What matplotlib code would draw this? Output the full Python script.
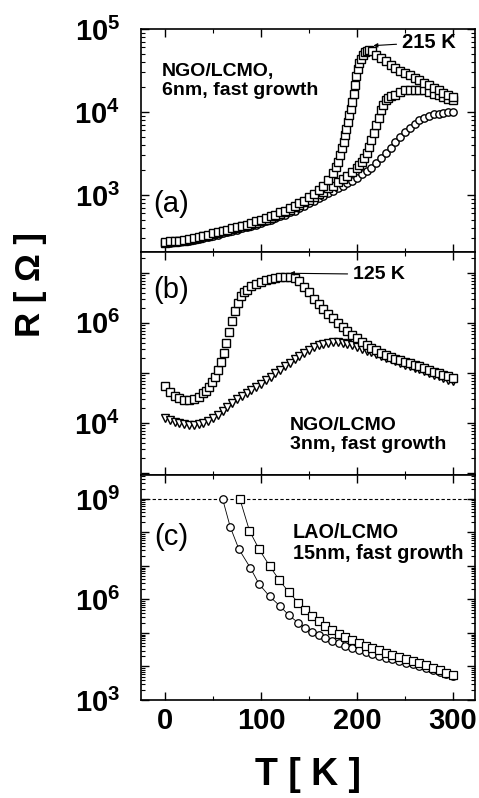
import numpy as np
import matplotlib
matplotlib.use("Agg")
import matplotlib.pyplot as plt
from matplotlib.ticker import FixedLocator, FuncFormatter, LogLocator, NullFormatter

plt.rcParams['font.family'] = ['Liberation Sans', 'DejaVu Sans']
plt.rcParams['mathtext.fontset'] = 'custom'
plt.rcParams['mathtext.rm'] = 'Liberation Sans'
plt.rcParams['mathtext.bf'] = 'Liberation Sans:bold'

# ---- panel (a): NGO/LCMO 6nm, values are log10(R / Ohm)
T_a = np.arange(0, 301, 5)
logR_a_circ = [2.42, 2.42, 2.43, 2.43, 2.44, 2.45, 2.46, 2.47, 2.48, 2.49,
               2.51, 2.52, 2.54, 2.55, 2.57, 2.58, 2.60, 2.61, 2.63, 2.64,
               2.66, 2.68, 2.70, 2.72, 2.74, 2.76, 2.79, 2.81, 2.84, 2.87,
               2.90, 2.93, 2.96, 2.99, 3.02, 3.05, 3.08, 3.11, 3.14, 3.17,
               3.21, 3.25, 3.29, 3.33, 3.38, 3.44, 3.50, 3.57, 3.64, 3.70,
               3.76, 3.81, 3.86, 3.90, 3.93, 3.95, 3.97, 3.98, 3.99, 4.00,
               4.00]

T_a_mid = [0, 5, 10, 15, 20, 25, 30, 35, 40, 45, 50, 55, 60, 65, 70, 75, 80,
           85, 90, 95, 100, 105, 110, 115, 120, 125, 130, 135, 140, 145, 150,
           155, 160, 165, 170, 175, 180, 185, 190, 195, 200, 202.5, 205, 207.5,
           210, 212.5, 215, 217.5, 220, 222.5, 225, 227.5, 230, 232.5, 235,
           240, 245, 250, 255, 260, 265, 270, 275, 280, 285, 290, 295, 300]
logR_a_mid = [2.42, 2.43, 2.43, 2.44, 2.45, 2.46, 2.47, 2.48, 2.50, 2.51,
              2.53, 2.54, 2.56, 2.57, 2.59, 2.60, 2.62, 2.63, 2.65, 2.66,
              2.68, 2.70, 2.72, 2.74, 2.77, 2.79, 2.82, 2.85, 2.88, 2.91,
              2.94, 2.97, 3.01, 3.04, 3.08, 3.11, 3.15, 3.19, 3.23, 3.28,
              3.33, 3.36, 3.40, 3.45, 3.51, 3.58, 3.66, 3.75, 3.84, 3.93,
              4.02, 4.09, 4.14, 4.17, 4.19, 4.21, 4.24, 4.26, 4.27, 4.27,
              4.27, 4.26, 4.24, 4.22, 4.20, 4.18, 4.16, 4.14]

T_a_sq = [0, 5, 10, 15, 20, 25, 30, 35, 40, 45, 50, 55, 60, 65, 70, 75, 80,
          85, 90, 95, 100, 105, 110, 115, 120, 125, 130, 135, 140, 145, 150,
          155, 160, 165, 170, 175, 178, 180, 182, 184, 186, 187.5, 189, 190.5,
          192, 193.5, 195, 196.5, 198, 199.5, 201, 202.5, 204, 206, 208, 210,
          213, 216, 220, 225, 230, 235, 240, 245, 250, 255, 260, 265, 270,
          275, 280, 285, 290, 295, 300]
logR_a_sq = [2.43, 2.44, 2.44, 2.45, 2.46, 2.47, 2.48, 2.49, 2.51, 2.52,
             2.54, 2.55, 2.57, 2.58, 2.60, 2.61, 2.63, 2.64, 2.66, 2.68,
             2.70, 2.72, 2.74, 2.76, 2.79, 2.81, 2.84, 2.87, 2.90, 2.93,
             2.97, 3.01, 3.06, 3.11, 3.18, 3.27, 3.34, 3.40, 3.48, 3.56,
             3.64, 3.72, 3.80, 3.88, 3.96, 4.04, 4.12, 4.22, 4.33, 4.43,
             4.52, 4.59, 4.64, 4.69, 4.72, 4.74, 4.75, 4.74, 4.69, 4.65,
             4.61, 4.57, 4.53, 4.50, 4.47, 4.44, 4.41, 4.38, 4.35, 4.32,
             4.29, 4.26, 4.23, 4.20, 4.18]

# ---- panel (b): NGO/LCMO 3nm
T_b_sq = [0, 5, 10, 15, 20, 25, 30, 35, 40, 43, 46, 49, 52, 55, 58, 61, 64,
          67, 70, 73, 76, 79, 82, 85, 90, 95, 100, 105, 110, 115, 120, 125,
          130, 135, 140, 145, 150, 155, 160, 165, 170, 175, 180, 185, 190,
          195, 200, 205, 210, 215, 220, 225, 230, 235, 240, 245, 250, 255,
          260, 265, 270, 275, 280, 285, 290, 295, 300]
logR_b_sq = [4.74, 4.62, 4.54, 4.49, 4.46, 4.46, 4.48, 4.52, 4.59, 4.64,
             4.72, 4.81, 4.92, 5.05, 5.21, 5.39, 5.59, 5.81, 6.03, 6.23,
             6.40, 6.53, 6.61, 6.66, 6.73, 6.78, 6.82, 6.85, 6.88, 6.90,
             6.91, 6.92, 6.92, 6.90, 6.83, 6.72, 6.61, 6.47, 6.37, 6.27,
             6.18, 6.09, 6.00, 5.92, 5.84, 5.76, 5.69, 5.62, 5.56, 5.50,
             5.45, 5.40, 5.36, 5.32, 5.28, 5.25, 5.22, 5.19, 5.16, 5.13,
             5.09, 5.06, 5.02, 4.99, 4.96, 4.93, 4.90]

T_b_tri = np.arange(0, 301, 5)
logR_b_tri = [4.10, 4.06, 4.02, 3.99, 3.97, 3.96, 3.96, 3.98, 4.00, 4.04,
              4.09, 4.16, 4.24, 4.32, 4.40, 4.47, 4.54, 4.60, 4.66, 4.72,
              4.78, 4.85, 4.92, 4.99, 5.06, 5.13, 5.20, 5.27, 5.34, 5.40,
              5.46, 5.51, 5.55, 5.58, 5.60, 5.61, 5.61, 5.60, 5.58, 5.55,
              5.52, 5.48, 5.44, 5.41, 5.37, 5.34, 5.30, 5.27, 5.23, 5.20,
              5.16, 5.13, 5.10, 5.07, 5.03, 5.00, 4.96, 4.93, 4.89, 4.86,
              4.83]

# ---- panel (c): LAO/LCMO 15nm
T_c_circ = [60, 68, 77, 89, 98, 109, 120, 129, 139, 146, 153, 160, 167, 174,
            181, 188, 195, 202, 209, 216, 223, 230, 237, 244, 251, 258, 265,
            272, 279, 286, 293, 300]
logR_c_circ = [9.00, 8.16, 7.50, 6.94, 6.46, 6.09, 5.80, 5.53, 5.30, 5.16,
               5.04, 4.94, 4.85, 4.77, 4.69, 4.62, 4.55, 4.49, 4.43, 4.37,
               4.31, 4.26, 4.21, 4.16, 4.11, 4.06, 4.01, 3.95, 3.89, 3.83,
               3.77, 3.71]

T_c_sq = [78, 88, 98, 109, 119, 129, 139, 146, 153, 160, 167, 174, 181, 188,
          195, 202, 209, 216, 223, 230, 237, 244, 251, 258, 265, 272, 279,
          286, 293, 300]
logR_c_sq = [9.00, 8.05, 7.50, 7.00, 6.58, 6.22, 5.90, 5.70, 5.52, 5.36,
             5.22, 5.10, 4.98, 4.88, 4.79, 4.70, 4.62, 4.55, 4.48, 4.41,
             4.35, 4.29, 4.23, 4.17, 4.11, 4.04, 3.97, 3.90, 3.82, 3.75]

R_limit = 1e9

fig = plt.figure(figsize=(4.79, 7.98), dpi=100)
L, W = 0.2944, 0.6973
ax_a = fig.add_axes([L, 0.6842, W, 0.2794])
ax_b = fig.add_axes([L, 0.4048, W, 0.2794])
ax_c = fig.add_axes([L, 0.1228, W, 0.2820])

mk = dict(linestyle='none', mfc='white', mec='black', mew=1.0, ms=5.3)

ax_a.plot(T_a, 10 ** np.array(logR_a_circ), marker='o', **mk)
ax_a.plot(T_a_mid, 10 ** np.array(logR_a_mid), marker='s', **mk)
ax_a.plot(T_a_sq, 10 ** np.array(logR_a_sq), marker='s', **mk)

ax_b.plot(T_b_tri, 10 ** np.array(logR_b_tri), marker='v', **mk)
ax_b.plot(T_b_sq, 10 ** np.array(logR_b_sq), marker='s', **mk)

ax_c.axhline(R_limit, color='black', lw=0.8, ls=(0, (3, 2)))
ax_c.plot(T_c_circ, 10 ** np.array(logR_c_circ), marker='o', color='black',
          lw=0.6, mfc='white', mec='black', mew=0.9, ms=5.4)
ax_c.plot(T_c_sq, 10 ** np.array(logR_c_sq), marker='s', color='black',
          lw=0.6, mfc='white', mec='black', mew=0.9, ms=5.4)

ylims = {ax_a: (205, 1e5), ax_b: (912, 2.6e7), ax_c: (1e3, 5.2e9)}
shown = {ax_a: [3, 4, 5], ax_b: [4, 6], ax_c: [3, 6, 9]}


def make_fmt(exps):
    def f(v, pos):
        e = int(round(np.log10(v)))
        if e in exps:
            return r'$\mathbf{10^{%d}}$' % e
        return ''
    return f


for ax in (ax_a, ax_b, ax_c):
    ax.set_yscale('log')
    ax.set_ylim(*ylims[ax])
    ax.set_xlim(-25, 323)
    ax.xaxis.set_major_locator(FixedLocator([0, 100, 200, 300]))
    ax.xaxis.set_minor_locator(FixedLocator([50, 150, 250]))
    ax.yaxis.set_major_locator(LogLocator(base=10, numticks=20))
    ax.yaxis.set_minor_locator(LogLocator(base=10, subs=np.arange(2, 10), numticks=20))
    ax.yaxis.set_major_formatter(FuncFormatter(make_fmt(shown[ax])))
    ax.yaxis.set_minor_formatter(NullFormatter())
    ax.tick_params(which='both', direction='in', top=True, right=True, width=1)
    ax.tick_params(which='major', length=6)
    ax.tick_params(which='minor', length=3, width=0.8)
    ax.tick_params(axis='y', which='major', labelsize=21, pad=15)
    ax.tick_params(axis='x', labelsize=21, pad=5)
    for s in ax.spines.values():
        s.set_linewidth(1.2)
    if ax is not ax_c:
        ax.tick_params(axis='x', labelbottom=False)
for lab in ax_c.get_xticklabels():
    lab.set_fontweight('bold')

# panel labels and descriptions
ax_a.text(0.036, 0.215, '(a)', transform=ax_a.transAxes, fontsize=21, va='center', ha='left')
ax_b.text(0.036, 0.83, '(b)', transform=ax_b.transAxes, fontsize=21, va='center', ha='left')
ax_c.text(0.04, 0.724, '(c)', transform=ax_c.transAxes, fontsize=21, va='center', ha='left')

ax_a.text(0.063, 0.765, 'NGO/LCMO,\n6nm, fast growth', transform=ax_a.transAxes,
          fontsize=14, fontweight='bold', va='center', ha='left', linespacing=1.15)
ax_b.text(0.446, 0.179, 'NGO/LCMO\n3nm, fast growth', transform=ax_b.transAxes,
          fontsize=14, fontweight='bold', va='center', ha='left', linespacing=1.1)
ax_c.text(0.455, 0.698, 'LAO/LCMO\n15nm, fast growth', transform=ax_c.transAxes,
          fontsize=14.3, fontweight='bold', va='center', ha='left', linespacing=1.15)

arr = dict(arrowstyle='-|>', color='black', lw=0.8, mutation_scale=6, shrinkA=2, shrinkB=0)
ax_a.annotate('215 K', xy=(217, 10 ** 4.80), xytext=(247, 10 ** 4.84), fontsize=14.5,
              fontweight='bold', va='center', ha='left', arrowprops=arr)
ax_b.annotate('125 K', xy=(130, 10 ** 6.99), xytext=(196, 10 ** 6.97), fontsize=14,
              fontweight='bold', va='center', ha='left', arrowprops=arr)

ax_c.set_xlabel('T [ K ]', fontsize=27, fontweight='bold', labelpad=16)
fig.text(0.063, 0.643, 'R [ \u03a9 ]', rotation=90, fontsize=25, fontweight='bold',
         va='center', ha='center')

fig.savefig('out.png', dpi=100)
